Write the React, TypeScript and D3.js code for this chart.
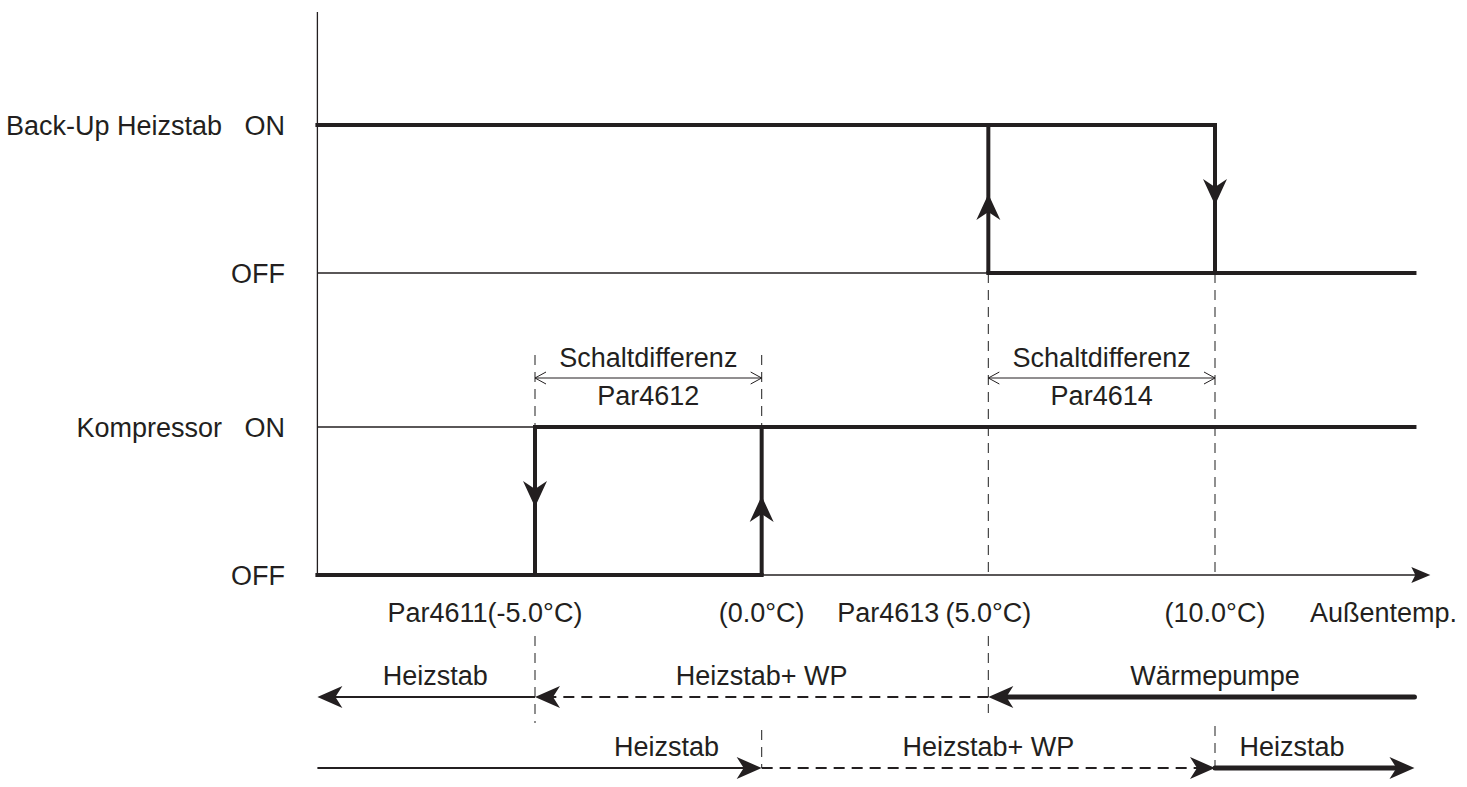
import React from "react";
import * as d3 from "d3";

// outside temperature (°C) range shown on the axis
const X_MIN = -9.8;
const X_MAX = 14.4;
const X_AXIS_END = 14.75;

const tempTicks = [-5, 0, 5, 10];
const tickPrefixes = ["Par4611", "", "Par4613 ", ""];

const signals = ["Back-Up Heizstab", "Kompressor"];
const levelNames = ["OFF", "ON"];

// thick state segments: level 0 = OFF, 1 = ON
const heaterSegments = [
  { level: 1, from: X_MIN, to: 10 },
  { level: 0, from: 5, to: X_MAX },
];
const heaterSwitches = [
  { at: 5, dir: "up" },
  { at: 10, dir: "down" },
];
const compressorSegments = [
  { level: 0, from: X_MIN, to: 0 },
  { level: 1, from: -5, to: X_MAX },
];
const compressorSwitches = [
  { at: -5, dir: "down" },
  { at: 0, dir: "up" },
];

const hysteresis = [
  { from: -5, to: 0, par: "Par4612" },
  { from: 5, to: 10, par: "Par4614" },
];

// operating mode rows (falling / rising temperature)
const fallingModes = [
  { from: X_MAX, to: 5, label: "Wärmepumpe", kind: "thick", labelAt: 10 },
  { from: 5, to: -5, label: "Heizstab+ WP", kind: "dashed", labelAt: 0 },
  { from: -5, to: X_MIN, label: "Heizstab", kind: "thin", labelAt: -7.2 },
];
const risingModes = [
  { from: X_MIN, to: 0, label: "Heizstab", kind: "thin", labelAt: -2.1 },
  { from: 0, to: 10, label: "Heizstab+ WP", kind: "dashed", labelAt: 5 },
  { from: 10, to: X_MAX, label: "Heizstab", kind: "thick", labelAt: 11.7 },
];

const W = 1467;
const H = 787;
const INK = "#231f20";
const FONT = "'Liberation Sans', Arial, sans-serif";
const FS = 27;

const x = d3.scaleLinear().domain([-5, 10]).range([535, 1215]);
const base = d3.scalePoint().domain(signals).range([273, 575]);
const LEVEL_H = 148;
const yOf = (sig: string, level: number) => (base(sig) as number) - level * LEVEL_H;

const ROW1 = 697;
const ROW2 = 768;
const BRACKET_Y = 378;
const AXIS_TOP = 12;

function Arrow({ x0, y0, angle, len = 24, half = 8, notch = 7 }: any) {
  const d = `M0,0 L${-len},${-half} L${-len + notch},0 L${-len},${half} Z`;
  return <path d={d} fill={INK} transform={`translate(${x0},${y0}) rotate(${angle})`} />;
}

function Chevron({ x0, y0, angle }: any) {
  return (
    <path
      d="M-11,-6 L0,0 L-11,6"
      fill="none"
      stroke={INK}
      strokeWidth={1}
      transform={`translate(${x0},${y0}) rotate(${angle})`}
    />
  );
}

const Txt = ({ x: tx, y: ty, anchor = "middle", children }: any) => (
  <text x={tx} y={ty} dy="0.36em" textAnchor={anchor} fill={INK} fontSize={FS} fontFamily={FONT}>
    {children}
  </text>
);

function ModeRow({ modes, y, dir }: any) {
  return (
    <g>
      {modes.map((m: any, i: number) => {
        const x1 = x(m.from);
        const x2 = x(m.to);
        const sw = m.kind === "thick" ? 5 : 2;
        return (
          <g key={i}>
            <line
              x1={x1}
              x2={x2 - Math.sign(x2 - x1) * 16}
              y1={y}
              y2={y}
              stroke={INK}
              strokeWidth={sw}
              strokeDasharray={m.kind === "dashed" ? "11 7" : undefined}
              strokeLinecap={m.kind === "thick" ? "round" : "butt"}
            />
            <Arrow x0={x2} y0={y} angle={dir > 0 ? 0 : 180} len={25} half={11} notch={7} />
            <Txt x={x(m.labelAt)} y={y - 22}>{m.label}</Txt>
          </g>
        );
      })}
    </g>
  );
}

function Signal({ sig, segments, switches }: any) {
  const yOff = yOf(sig, 0);
  const yOn = yOf(sig, 1);
  const mid = (yOff + yOn) / 2;
  return (
    <g>
      {segments.map((s: any, i: number) => (
        <line
          key={i}
          x1={x(s.from)}
          x2={x(s.to)}
          y1={yOf(sig, s.level)}
          y2={yOf(sig, s.level)}
          stroke={INK}
          strokeWidth={4}
          strokeLinecap="square"
        />
      ))}
      {switches.map((s: any, i: number) => (
        <g key={i}>
          <line x1={x(s.at)} x2={x(s.at)} y1={yOn} y2={yOff} stroke={INK} strokeWidth={4} />
          <Arrow
            x0={x(s.at)}
            y0={s.dir === "up" ? mid - 5 : mid + 6}
            angle={s.dir === "up" ? -90 : 90}
            len={26}
            half={12}
            notch={8}
          />
        </g>
      ))}
    </g>
  );
}

export default function App() {
  const heater = signals[0];
  const comp = signals[1];
  const thin = { stroke: INK, strokeWidth: 1.3 };
  const dash = { stroke: "#333", strokeWidth: 1.1, strokeDasharray: "10 7" };

  const vDash = (t: number, y1: number, y2: number, k: string) => (
    <line key={k} x1={x(t)} x2={x(t)} y1={y1} y2={y2} {...dash} />
  );

  return (
    <svg
      width={W}
      height={H}
      viewBox={`0 0 ${W} ${H}`}
      style={{ position: "absolute", left: 0, top: 0, background: "#fff" }}
    >
      {/* y axis */}
      <line x1={x(X_MIN)} x2={x(X_MIN)} y1={AXIS_TOP} y2={yOf(comp, 0)} {...thin} />

      {/* thin reference lines */}
      <line x1={x(X_MIN)} x2={x(5)} y1={yOf(heater, 0)} y2={yOf(heater, 0)} {...thin} />
      <line x1={x(X_MIN)} x2={x(-5)} y1={yOf(comp, 1)} y2={yOf(comp, 1)} {...thin} />
      <line x1={x(X_MIN)} x2={x(X_AXIS_END) - 14} y1={yOf(comp, 0)} y2={yOf(comp, 0)} {...thin} />
      <Arrow x0={x(X_AXIS_END)} y0={yOf(comp, 0)} angle={0} len={19} half={8} notch={4} />

      {/* dashed guides */}
      {vDash(-5, 355, yOf(comp, 1), "a1")}
      {vDash(-5, 636, ROW1 + 26, "a2")}
      {vDash(0, 355, yOf(comp, 1), "b1")}
      {vDash(0, ROW2 - 38, ROW2, "b2")}
      {vDash(5, yOf(heater, 0), yOf(comp, 0), "c1")}
      {vDash(5, 636, ROW1 + 16, "c2")}
      {vDash(10, yOf(heater, 0), yOf(comp, 0), "d1")}
      {vDash(10, ROW2 - 42, ROW2, "d2")}

      {/* hysteresis brackets */}
      {hysteresis.map((h, i) => (
        <g key={i}>
          <line x1={x(h.from)} x2={x(h.to)} y1={BRACKET_Y} y2={BRACKET_Y} stroke={INK} strokeWidth={1} />
          <Chevron x0={x(h.from)} y0={BRACKET_Y} angle={180} />
          <Chevron x0={x(h.to)} y0={BRACKET_Y} angle={0} />
          <Txt x={(x(h.from) + x(h.to)) / 2} y={BRACKET_Y - 21}>Schaltdifferenz</Txt>
          <Txt x={(x(h.from) + x(h.to)) / 2} y={BRACKET_Y + 17}>{h.par}</Txt>
        </g>
      ))}

      <Signal sig={heater} segments={heaterSegments} switches={heaterSwitches} />
      <Signal sig={comp} segments={compressorSegments} switches={compressorSwitches} />

      {/* signal labels */}
      {signals.map((s) => (
        <g key={s}>
          <Txt x={222} y={yOf(s, 1)} anchor="end">{s}</Txt>
          {levelNames.map((l, li) => (
            <Txt key={l} x={285} y={yOf(s, li)} anchor="end">{l}</Txt>
          ))}
        </g>
      ))}

      {/* temperature tick labels */}
      {tempTicks.map((t, i) => {
        const paren = `(${t.toFixed(1)}°C)`;
        const halfW = (paren.length * FS * 0.44) / 2;
        return (
          <g key={t}>
            <Txt x={x(t)} y={612}>{paren}</Txt>
            {tickPrefixes[i] && (
              <text
                x={x(t) - halfW}
                y={612}
                dy="0.36em"
                textAnchor="end"
                fill={INK}
                fontSize={FS}
                fontFamily={FONT}
                style={{ whiteSpace: "pre" }}
              >
                {tickPrefixes[i]}
              </text>
            )}
          </g>
        );
      })}
      <Txt x={1310} y={612} anchor="start">Außentemp.</Txt>

      <ModeRow modes={fallingModes} y={ROW1} dir={-1} />
      <ModeRow modes={risingModes} y={ROW2} dir={1} />
    </svg>
  );
}
